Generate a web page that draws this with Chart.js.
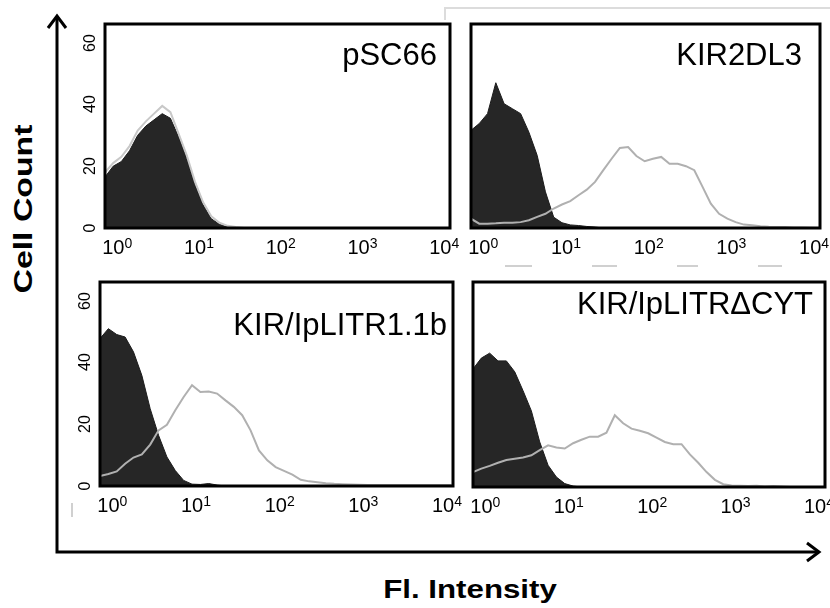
<!DOCTYPE html>
<html>
<head>
<meta charset="utf-8">
<script src="https://cdn.jsdelivr.net/npm/chart.js@4.4.0/dist/chart.umd.min.js"></script>
<style>
  html, body { margin: 0; padding: 0; background: #fff; }
  #wrap { position: relative; width: 830px; height: 608px; overflow: hidden;
          font-family: Liberation Sans, Arial, Helvetica, sans-serif; color: #000; }
  #wrap canvas { position: absolute; }
  #c1 { left: 65px;  top: 22px; }
  #c2 { left: 431px; top: 22px; }
  #c3 { left: 60px;  top: 280px; }
  #c4 { left: 433px; top: 280px; }
  .ttl { position: absolute; font-size: 31px; line-height: 1; white-space: nowrap; }
  .axl { position: absolute; font-weight: bold; line-height: 1; white-space: nowrap; }
  .xt { position: absolute; font-size: 20px; line-height: 1; white-space: nowrap; transform: translateX(-50%); }
  .xt sup { font-size: 14px; position: relative; top: -1px; vertical-align: top; line-height: 1; }
  .yt { position: absolute; font-size: 16px; line-height: 1; white-space: nowrap;
        transform: translate(-50%, -50%) rotate(-90deg); }
  svg { position: absolute; left: 0; top: 0; }
</style>
</head>
<body>
<div id="wrap">
  <svg width="830" height="608">
    <!-- faint leftovers of the original figure -->
    <polyline points="445,20 445,8 830,8" fill="none" stroke="#dcdcdc" stroke-width="2"/>
    <g stroke="#d0d0d0" stroke-width="2">
      <line x1="505" y1="266" x2="532" y2="266"/>
      <line x1="592" y1="266" x2="617" y2="266"/>
      <line x1="677" y1="266" x2="698" y2="266"/>
      <line x1="758" y1="266" x2="782" y2="266"/>
      <line x1="72" y1="503" x2="72" y2="517"/>
    </g>
    <!-- big axes -->
    <g stroke="#000" stroke-width="3" fill="none">
      <polyline points="57,16 57,552 819,552"/>
      <polyline points="48,28 57,16 66,28"/>
      <polyline points="807,543 819,552 807,561"/>
    </g>
  </svg>

  <canvas id="c1" width="399" height="238"></canvas>
  <canvas id="c2" width="403" height="238"></canvas>
  <canvas id="c3" width="407" height="238"></canvas>
  <canvas id="c4" width="406" height="239"></canvas>

  <div class="ttl" style="right:393px; top:39px;">pSC66</div>
  <div class="ttl" style="right:28px; top:39px;">KIR2DL3</div>
  <div class="ttl" style="right:383px; top:309px;">KIR/IpLITR1.1b</div>
  <div class="ttl" style="right:17px; top:288px;">KIR/IpLITRΔCYT</div>

  <div class="axl" style="left:23px; top:209px; font-size:26px; transform: translate(-50%,-50%) rotate(-90deg) scaleX(1.3);">Cell Count</div>
  <div class="axl" style="left:470px; top:577px; font-size:25px; transform: translateX(-50%) scaleX(1.25);">Fl. Intensity</div>
</div>

<script>
// log10 bins of fluorescence intensity
const bins = [-0.1, 0, 0.1, 0.2, 0.3, 0.4, 0.5, 0.6, 0.7, 0.8, 0.9,
              1.0, 1.1, 1.2, 1.3, 1.4, 1.5, 1.6, 1.7, 1.8, 1.9,
              2.0, 2.1, 2.2, 2.3, 2.4, 2.5, 2.6, 2.7, 2.8, 2.9,
              3.0, 3.1, 3.2, 3.3, 3.4, 3.5, 3.6, 3.7, 3.8, 3.9,
              4.0, 4.1];

const xTickValues = [0, 1, 2, 3, 4];
const xTickBase = '10';
const xTickExps = ['0', '1', '2', '3', '4'];
const yTickValues = [0, 20, 40, 60];

// pSC66
const pscBlack = [16.5, 20, 21.5, 25, 30, 33, 35, 37, 35.5, 29.5, 22.5,
                  14, 7.5, 3, 1.2, 0.3, 0, 0, 0, 0, 0,
                  0, 0, 0, 0, 0, 0, 0, 0, 0, 0,
                  0, 0, 0, 0, 0, 0, 0, 0, 0, 0, 0, 0];
const pscGray  = [18, 21, 23, 26.5, 31.5, 34.5, 37, 39.5, 37.5, 30.5, 23.5,
                  15, 8.3, 3.8, 1.7, 0.7, 0.3, 0, 0, 0, 0,
                  0, 0, 0, 0, 0, 0, 0, 0, 0, 0,
                  0, 0, 0, 0, 0, 0, 0, 0, 0, 0, 0, 0];

// KIR2DL3
const kirBlack = [31.6, 33.8, 37, 47, 40.2, 38.6, 37, 31, 23.5, 11.7, 3.5,
                  1.7, 1, 0.8, 0.5, 0.3, 0, 0, 0, 0, 0,
                  0, 0, 0, 0, 0, 0, 0, 0, 0, 0,
                  0, 0, 0, 0, 0, 0, 0, 0, 0, 0, 0, 0];
const kirGray  = [3, 1.4, 1.4, 1.5, 1.7, 1.7, 1.9, 2.5, 3.6, 4.6, 6.3,
                  7.6, 8.7, 10.6, 12.4, 14.9, 18.7, 22.4, 25.9, 26.2, 23.3,
                  21.6, 22.4, 23, 20.8, 20.8, 20, 18.7, 13.3, 7.9, 4.6,
                  3, 1.9, 1.1, 0.9, 0.6, 0.4, 0.3, 0.3, 0.2, 0.2, 0.1, 0];

// KIR/IpLITR1.1b
const litrBlack = [47.7, 50.9, 49, 48.2, 43.4, 35.8, 25, 16.4, 9.4, 5, 1.8,
                   0.6, 0.5, 0.8, 0.3, 0, 0, 0, 0, 0, 0,
                   0, 0, 0, 0, 0, 0, 0, 0, 0, 0,
                   0, 0, 0, 0, 0, 0, 0, 0, 0, 0, 0, 0];
const litrGray  = [3.2, 3.9, 4.7, 7.2, 9.2, 10.2, 13.4, 18, 19.8, 24.5, 28.8,
                   32.6, 30.4, 30.6, 29.9, 27.7, 25.6, 22.9, 18, 11.5, 8.3,
                   6.1, 4.9, 3.7, 2, 1.5, 1.2, 0.9, 0.7, 0.6, 0.5,
                   0.4, 0.3, 0.3, 0.3, 0.3, 0.3, 0.3, 0.3, 0.3, 0.3, 0.3, 0.3];

// KIR/IpLITRΔCYT
const cytBlack = [38, 41.5, 43.1, 40.6, 40.6, 37.1, 31, 24.5, 14.5, 7, 3.2,
                  1.1, 0.3, 0, 0, 0, 0, 0, 0, 0, 0,
                  0, 0, 0, 0, 0, 0, 0, 0, 0, 0,
                  0, 0, 0, 0, 0, 0, 0, 0, 0, 0, 0, 0];
const cytGray  = [4.8, 5.9, 6.8, 7.8, 8.7, 9.1, 9.5, 10.2, 11.9, 13.4, 12.7,
                  12.4, 14.1, 15.2, 16.2, 16.2, 17.5, 23.1, 20.5, 18.8, 18.1,
                  17.3, 15.9, 14.5, 13.8, 13.8, 10.5, 7.8, 4.8, 2.3, 0.9,
                  0.5, 0.4, 0.3, 0.4, 0.2, 0.3, 0.2, 0, 0, 0, 0, 0];

const wrap = document.getElementById('wrap');

// box around each plot area
const boxBorder = {
  id: 'boxBorder',
  afterDraw(chart) {
    const a = chart.chartArea;
    const ctx = chart.ctx;
    ctx.save();
    ctx.strokeStyle = '#000';
    ctx.lineWidth = 3;
    ctx.strokeRect(a.left, a.top, a.right - a.left, a.bottom - a.top);
    ctx.restore();
  }
};

function toPoints(arr) {
  return arr.map((v, i) => ({ x: bins[i], y: v }));
}

// tick labels as page text, placed with the chart's own scales
function addTickLabels(chart, canvas, showY) {
  const ox = canvas.offsetLeft, oy = canvas.offsetTop;
  const a = chart.chartArea;
  xTickValues.forEach((v, i) => {
    const d = document.createElement('div');
    d.className = 'xt';
    d.innerHTML = xTickBase + '<sup>' + xTickExps[i] + '</sup>';
    d.style.left = (ox + chart.scales.x.getPixelForValue(v) + 4) + 'px';
    d.style.top = (oy + a.bottom + 9) + 'px';
    wrap.appendChild(d);
  });
  if (!showY) return;
  yTickValues.forEach(v => {
    const d = document.createElement('div');
    d.className = 'yt';
    d.textContent = String(v);
    d.style.left = (ox + a.left - 15) + 'px';
    d.style.top = (oy + chart.scales.y.getPixelForValue(v)) + 'px';
    wrap.appendChild(d);
  });
}

function makePanel(id, black, gray, showY, grayColor) {
  const canvas = document.getElementById(id);
  const chart = new Chart(canvas, {
    type: 'line',
    data: {
      datasets: [
        { data: toPoints(gray), borderColor: grayColor, borderWidth: 2,
          pointRadius: 0, fill: false, tension: 0, order: 0 },
        { data: toPoints(black), borderColor: '#1c1c1c', backgroundColor: '#262626',
          borderWidth: 1, pointRadius: 0, fill: 'origin', tension: 0, order: 1 }
      ]
    },
    options: {
      responsive: false,
      animation: false,
      events: [],
      layout: { padding: { top: 2, right: 14, left: 0, bottom: 0 } },
      plugins: { legend: { display: false }, tooltip: { enabled: false } },
      scales: {
        x: {
          type: 'linear', min: -0.1, max: 4.12,
          grid: { display: false }, border: { display: false },
          afterBuildTicks: s => { s.ticks = xTickValues.map(v => ({ value: v })); },
          afterFit: s => { s.height = 32; },
          ticks: { display: false }
        },
        y: {
          min: 0, max: 66,
          grid: { display: false }, border: { display: false },
          afterBuildTicks: s => { s.ticks = yTickValues.map(v => ({ value: v })); },
          afterFit: s => { s.width = 40; },
          ticks: { display: false }
        }
      }
    },
    plugins: [boxBorder]
  });
  addTickLabels(chart, canvas, showY);
}

makePanel('c1', pscBlack, pscGray, true, '#c8c8c8');
makePanel('c2', kirBlack, kirGray, false, '#b0b0b0');
makePanel('c3', litrBlack, litrGray, true, '#b0b0b0');
makePanel('c4', cytBlack, cytGray, false, '#b0b0b0');
</script>
</body>
</html>
